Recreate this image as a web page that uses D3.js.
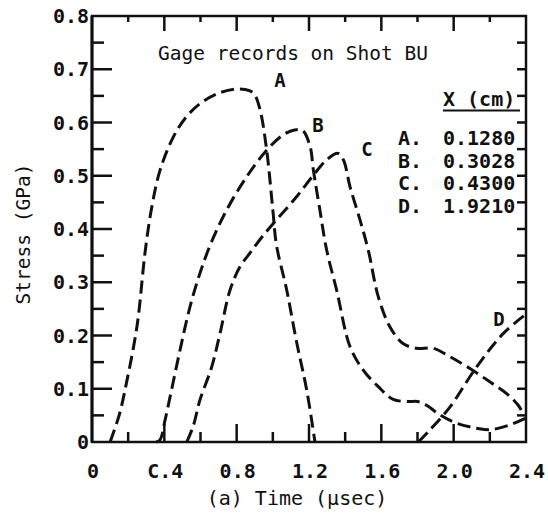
<!DOCTYPE html>
<html>
<head>
<meta charset="utf-8">
<script src="https://cdn.jsdelivr.net/npm/d3@7"></script>
<style>
  html, body { margin: 0; padding: 0; background: #fff; }
  svg { display: block; }
  text { font-family: "DejaVu Sans Mono", "Liberation Mono", monospace; fill: #111; }
</style>
</head>
<body>
<svg id="chart" width="548" height="520"></svg>
<script>
// ---- data ----
const xTickValues = [0, 0.4, 0.8, 1.2, 1.6, 2.0, 2.4];
const xTickLabels = ["0", "C.4", "0.8", "1.2", "1.6", "2.0", "2.4"];
const yTickValues = [0, 0.1, 0.2, 0.3, 0.4, 0.5, 0.6, 0.7, 0.8];
const yTickLabels = ["0", "0.1", "0.2", "0.3", "0.4", "0.5", "0.6", "0.7", "0.8"];

const timeA = [0.10, 0.15, 0.19, 0.25, 0.293, 0.33, 0.376, 0.45, 0.52, 0.60, 0.70, 0.80, 0.87, 0.90, 0.93, 0.966, 1.0, 1.02, 1.077, 1.13, 1.187, 1.233];
const stressA = [0, 0.05, 0.11, 0.22, 0.355, 0.44, 0.51, 0.573, 0.61, 0.636, 0.655, 0.663, 0.66, 0.652, 0.623, 0.548, 0.436, 0.37, 0.285, 0.19, 0.098, 0];

const timeB = [0.355, 0.376, 0.404, 0.44, 0.487, 0.542, 0.597, 0.66, 0.745, 0.855, 0.966, 1.058, 1.12, 1.165, 1.206, 1.224, 1.26, 1.298, 1.353, 1.427, 1.50, 1.583, 1.666, 1.75, 1.80, 1.85, 1.924, 2.017, 2.127, 2.20, 2.31, 2.40];
const stressB = [0, 0.004, 0.041, 0.098, 0.173, 0.254, 0.317, 0.375, 0.436, 0.498, 0.548, 0.577, 0.586, 0.585, 0.555, 0.511, 0.436, 0.36, 0.285, 0.179, 0.135, 0.104, 0.08, 0.076, 0.076, 0.069, 0.051, 0.035, 0.026, 0.023, 0.032, 0.045];

const timeC = [0.524, 0.56, 0.597, 0.662, 0.708, 0.763, 0.818, 0.874, 0.94, 1.02, 1.13, 1.224, 1.298, 1.36, 1.39, 1.427, 1.482, 1.528, 1.583, 1.648, 1.72, 1.796, 1.887, 1.98, 2.09, 2.20, 2.293, 2.357, 2.39];
const stressC = [0, 0.03, 0.079, 0.141, 0.204, 0.285, 0.329, 0.355, 0.385, 0.417, 0.46, 0.501, 0.53, 0.542, 0.53, 0.479, 0.417, 0.36, 0.273, 0.216, 0.185, 0.176, 0.176, 0.16, 0.138, 0.113, 0.091, 0.069, 0.05];

const timeD = [1.805, 1.87, 1.98, 2.127, 2.275, 2.40];
const stressD = [0, 0.023, 0.066, 0.141, 0.204, 0.24];

const curveNames = ["A", "B", "C", "D"];
const curveLabelTime = [1.04, 1.25, 1.52, 2.25];
const curveLabelStress = [0.68, 0.595, 0.55, 0.231];

const legendTitle = "X (cm)";
const legendKeys = ["A.", "B.", "C.", "D."];
const legendValues = ["0.1280", "0.3028", "0.4300", "1.9210"];

const chartTitle = "Gage records on Shot BU";
const xLabel = "(a) Time (\u00b5sec)";
const yLabel = "Stress (GPa)";

// ---- layout ----
const svg = d3.select("#chart");
const L = 92, R = 526, T = 16, B = 442;
const x = d3.scaleLinear().domain([0, 2.4]).range([L, R]);
const y = d3.scaleLinear().domain([0, 0.8]).range([B, T]);

const series = [
  d3.zip(timeA, stressA),
  d3.zip(timeB, stressB),
  d3.zip(timeC, stressC),
  d3.zip(timeD, stressD)
];

// tick positions (scale-driven)
const xTicks = x.ticks(12).filter(v => v > 0 && v < 2.4);   // every 0.2
const yTicks = y.ticks(16).filter(v => v > 0 && v < 0.8);   // every 0.05
const isMajorX = v => Math.abs(v / 0.4 - Math.round(v / 0.4)) < 1e-6;
const isMajorY = v => Math.abs(v / 0.1 - Math.round(v / 0.1)) < 1e-6;

const tickG = svg.append("g").attr("stroke", "#111").attr("stroke-width", 2.5);
// bottom (inward, up)
tickG.append("g").selectAll("line").data(xTicks).join("line")
  .attr("x1", d => x(d)).attr("x2", d => x(d))
  .attr("y1", B).attr("y2", d => B - (isMajorX(d) ? 18 : 10));
// top (inward, down)
tickG.append("g").selectAll("line").data(xTicks).join("line")
  .attr("x1", d => x(d)).attr("x2", d => x(d))
  .attr("y1", T).attr("y2", d => T + (isMajorX(d) ? 15 : 6));
// left (inward, right)
tickG.append("g").selectAll("line").data(yTicks).join("line")
  .attr("y1", d => y(d)).attr("y2", d => y(d))
  .attr("x1", L).attr("x2", d => L + (isMajorY(d) ? 20 : 12));
// right (inward, left)
tickG.append("g").selectAll("line").data(yTicks).join("line")
  .attr("y1", d => y(d)).attr("y2", d => y(d))
  .attr("x1", R).attr("x2", R - 9);

// frame
svg.append("rect").attr("x", L).attr("y", T).attr("width", R - L).attr("height", B - T)
  .attr("fill", "none").attr("stroke", "#111").attr("stroke-width", 2.5);
svg.append("line").attr("x1", L).attr("x2", L).attr("y1", T).attr("y2", B)
  .attr("stroke", "#111").attr("stroke-width", 3);

// tick labels
svg.append("g").selectAll("text").data(xTickValues).join("text")
  .attr("x", d => x(d) + 1).attr("y", 478)
  .attr("text-anchor", "middle").attr("font-size", 20).attr("font-weight", "bold")
  .text((d, i) => xTickLabels[i]);
svg.append("g").selectAll("text").data(yTickValues).join("text")
  .attr("x", L - 3).attr("y", d => y(d) + 7)
  .attr("text-anchor", "end").attr("font-size", 20).attr("font-weight", "bold")
  .text((d, i) => yTickLabels[i]);

// axis titles
svg.append("text").attr("x", 297).attr("y", 505).attr("text-anchor", "middle")
  .attr("font-size", 20).text(xLabel);
svg.append("text").attr("transform", "translate(30,234) rotate(-90)").attr("text-anchor", "middle")
  .attr("font-size", 19.5).text(yLabel);

// chart title
svg.append("text").attr("x", 158).attr("y", 60).attr("font-size", 19.5).text(chartTitle);

// curves
const lineGen = d3.line().x(d => x(d[0])).y(d => y(d[1])).curve(d3.curveCatmullRom.alpha(0.5));
svg.append("g").selectAll("path").data(series).join("path")
  .attr("d", lineGen).attr("fill", "none").attr("stroke", "#111")
  .attr("stroke-width", 3).attr("stroke-dasharray", "13,6");

// curve labels
svg.append("g").selectAll("text").data(curveNames).join("text")
  .attr("x", (d, i) => x(curveLabelTime[i])).attr("y", (d, i) => y(curveLabelStress[i]) + 7)
  .attr("text-anchor", "middle").attr("font-size", 19).attr("font-weight", "bold")
  .text(d => d);

// legend
svg.append("text").attr("x", 443).attr("y", 106).attr("font-size", 20).attr("font-weight", "bold").text(legendTitle);
svg.append("line").attr("x1", 443).attr("x2", 520).attr("y1", 110.5).attr("y2", 110.5)
  .attr("stroke", "#111").attr("stroke-width", 1.8);
svg.append("g").selectAll("text").data(legendKeys).join("text")
  .attr("x", 398).attr("y", (d, i) => 145 + i * 22.7)
  .attr("font-size", 20).attr("font-weight", "bold").text(d => d);
svg.append("g").selectAll("text").data(legendValues).join("text")
  .attr("x", 443).attr("y", (d, i) => 145 + i * 22.7)
  .attr("font-size", 20).attr("font-weight", "bold").text(d => d);
</script>
</body>
</html>
